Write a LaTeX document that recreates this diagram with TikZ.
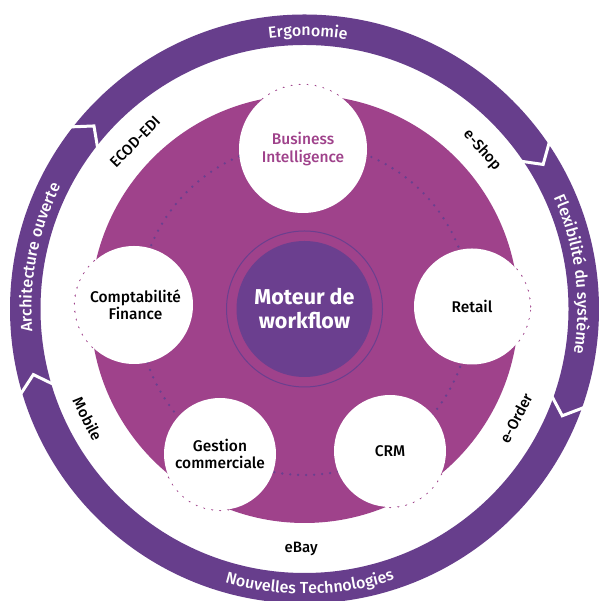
\documentclass[tikz,border=0pt]{standalone}
\usepackage{fontspec}
\setmainfont{Fira Sans}
\newfontfamily\medfont{Fira Sans Medium}
\usetikzlibrary{decorations.text}
\definecolor{ringpurple}{HTML}{673E8C}
\definecolor{diskmag}{HTML}{9F428B}
\definecolor{corepurple}{HTML}{6B3F8F}
\newcommand{\ringfont}{\medfont\fontsize{16}{18}\selectfont}
\tikzset{
  satdots/.style={draw=diskmag, line width=2.6pt, line cap=round, dash pattern=on 0pt off 8pt},
  purpdots/.style={draw=corepurple, line width=2.6pt, line cap=round, dash pattern=on 0pt off 8pt},
  sat/.style={circle, fill=white, inner sep=0pt, align=center, text=black,
    font=\medfont\fontsize{15.5}{17.5}\selectfont},
  core/.style={circle, fill=corepurple, inner sep=0pt, minimum size=136pt, align=center,
    text=white, font=\bfseries\fontsize{21.5}{24}\selectfont},
  bandlabel/.style={inner sep=0pt, text=black, font=\medfont\fontsize{15}{17}\selectfont},
  chevron/.style={draw=white, line width=3pt, line join=miter},
  ringtext/.style={decorate, decoration={text along path, text={#1}, text align=center, text color=white}}
}
\begin{document}
\begin{tikzpicture}[x=1pt,y=1pt]
\useasboundingbox (0,0) rectangle (598,601);
\fill[white] (0,0) rectangle (598,601);
\begin{scope}[shift={(304.5,292)}]
  \coordinate (C) at (0,0);
  % outer ring
  \fill[ringpurple, even odd rule] (C) circle[radius=294.5pt] (C) circle[radius=264pt];
  \foreach \b in {143.6, 35.8, -17.9, 198.2} {
    \draw[chevron] (\b:255pt) -- ({\b-4.6}:279pt) -- (\b:306pt);
  }
  % satellite positions
  \coordinate (pbi) at (-1.5,160);
  \coordinate (pretail) at (167.5,2.5);
  \coordinate (pcrm) at (85.5,-142);
  \coordinate (pgestion) at (-84.5,-145);
  \coordinate (pcompta) at (-170.5,4);
  % dotted outlines outside the disk
  \draw[satdots] (pbi) circle[radius=64pt];
  \draw[satdots] (pretail) circle[radius=58pt];
  \draw[satdots] (pcrm) circle[radius=56pt];
  \draw[satdots] (pgestion) circle[radius=56pt];
  \draw[satdots] (pcompta) circle[radius=59pt];
  % magenta disk
  \fill[diskmag] (C) circle[radius=214pt];
  % dotted orbit
  \draw[purpdots] (C) circle[radius=166pt];
  % satellites
  \node[sat, minimum size=128pt, text=diskmag] (bi) at (pbi) {Business\\Intelligence};
  \node[sat, minimum size=116pt] (retail) at (pretail) {Retail};
  \node[sat, minimum size=112pt] (crm) at (pcrm) {CRM};
  \node[sat, minimum size=112pt] (gestion) at (pgestion) {Gestion\\commerciale};
  \node[sat, minimum size=118pt] (compta) at (pcompta) {\hspace*{3pt}Comptabilité\\\hspace*{3pt}Finance};
  % core
  \draw[corepurple, line width=1pt] (C) circle[radius=78pt];
  \node[core] (moteur) at (C) {Moteur de\\workflow};
  % band labels
  \node[bandlabel, rotate=45.4] (ecod) at (135.4:238pt) {ECOD-EDI};
  \node[bandlabel, rotate=-48.2] (eshop) at (41.8:238pt) {e-Shop};
  \node[bandlabel, rotate=62.7] (eorder) at (-27.3:238pt) {e-Order};
  \node[bandlabel] (ebay) at (-90.8:240pt) {eBay};
  \node[bandlabel, rotate=-63.1] (mobile) at (206.9:243pt) {Mobile};
  % ring texts
  \path[ringtext={|\ringfont|Ergonomie}] (119.3:273pt) arc[start angle=119.3, end angle=59.3, radius=273pt];
  \path[ringtext={|\ringfont|Flexibilité du système}] (37.4:273pt) arc[start angle=37.4, end angle=-22.6, radius=273pt];
  \path[ringtext={|\ringfont|Architecture ouverte}] (199:273pt) arc[start angle=199, end angle=139, radius=273pt];
  \path[ringtext={|\ringfont|Nouvelles Technologies}] (-123.9:285pt) arc[start angle=-123.9, end angle=-53.9, radius=285pt];
\end{scope}
\end{tikzpicture}
\end{document}
